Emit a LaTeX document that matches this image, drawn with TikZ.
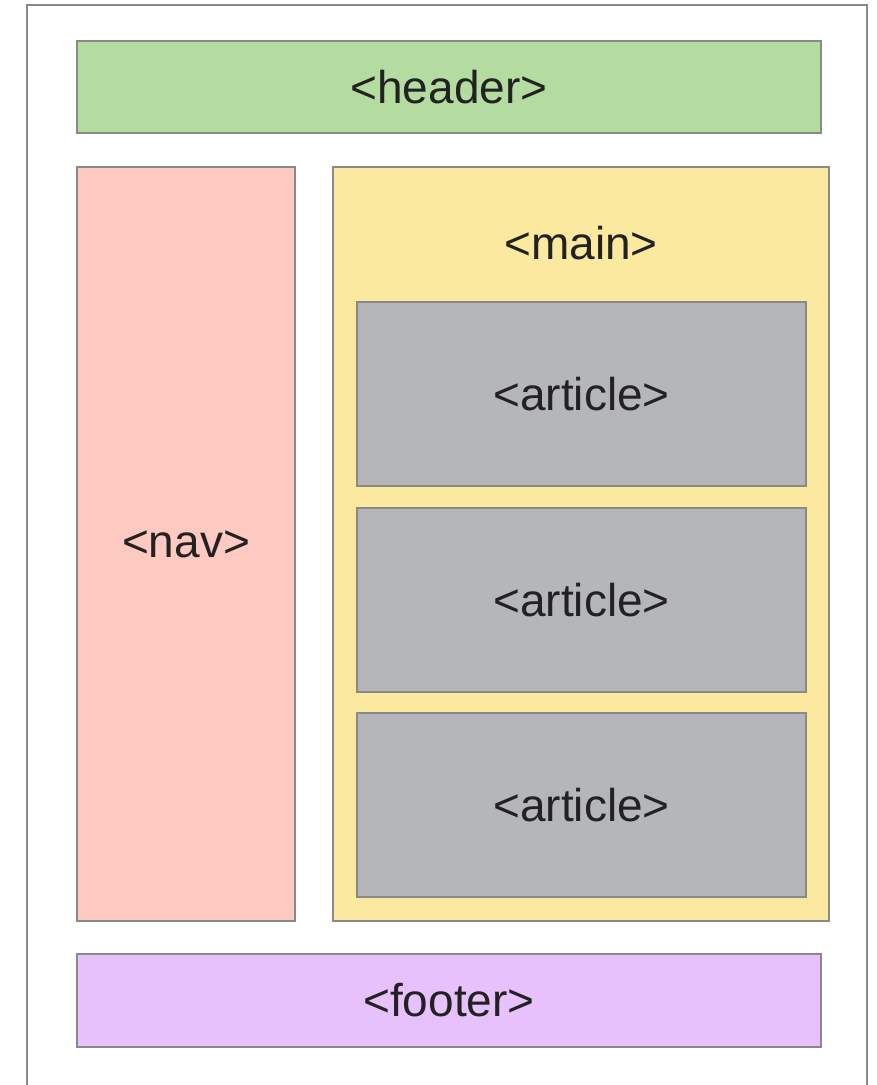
\documentclass[tikz,border=0pt]{standalone}
\usepackage{fontspec}
\setmainfont{Liberation Sans}
\usepackage{tikz}

\definecolor{framegray}{HTML}{898989}
\definecolor{headergreen}{HTML}{B5DCA0}
\definecolor{navpink}{HTML}{FDC9C0}
\definecolor{mainyellow}{HTML}{FBE9A0}
\definecolor{articlegray}{HTML}{B5B6B9}
\definecolor{footerpurple}{HTML}{E6C1FB}
\definecolor{tagtext}{HTML}{222222}

\tikzset{
  tagbox/.style={draw=framegray, line width=2.5pt, rectangle, inner sep=0pt,
    text=tagtext, font=\fontsize{46}{50}\selectfont},
  taglabel/.style={text=tagtext, font=\fontsize{46}{50}\selectfont, inner sep=0pt}
}

\begin{document}
\begin{tikzpicture}[x=1pt, y=-1pt]

      \useasboundingbox (0,0) rectangle (877,1085);

      % page frame, open at the bottom
      \draw[framegray, line width=2.5pt] (27,1090) -- (27,5) -- (867,5) -- (867,1090);

      % <header>
      \node[tagbox, fill=headergreen, minimum width=744pt, minimum height=92pt] (header) at (449,87) {<header>};

      % <nav>
      \node[tagbox, fill=navpink, minimum width=218pt, minimum height=754pt] (nav) at (186,544) {<nav>};

      % <main> with its articles
      \node[tagbox, fill=mainyellow, minimum width=496pt, minimum height=754pt] (main) at (581,544) {};
      \node[taglabel] (mainlabel) at (581,243) {<main>};

      \foreach \i/\y in {1/394, 2/600, 3/805}
        \node[tagbox, fill=articlegray, minimum width=449pt, minimum height=184pt] (article\i) at (581.5,\y) {<article>};

      % <footer>
      \node[tagbox, fill=footerpurple, minimum width=744pt, minimum height=93pt] (footer) at (449,1000.5) {<footer>};

    \end{tikzpicture}
\end{document}
